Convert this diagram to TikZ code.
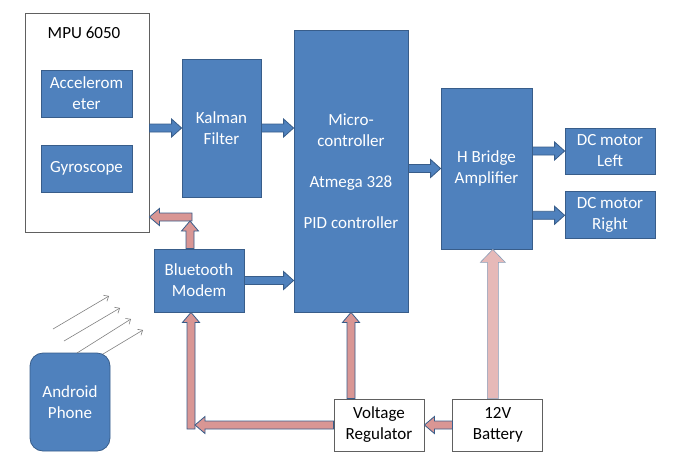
\documentclass[tikz,border=0pt]{standalone}
\usepackage{fontspec}
\setmainfont{Carlito}
\usetikzlibrary{calc, positioning, arrows.meta}

\definecolor{boxblue}{HTML}{4F81BD}
\definecolor{edgeblue}{HTML}{385D8A}
\definecolor{powerpink}{HTML}{D99694}
\definecolor{lightpink}{HTML}{E6B9B8}
\definecolor{rimgray}{HTML}{606060}

\tikzset{
  bar half/.initial=4pt, head half/.initial=9pt, head len/.initial=10pt,
  fat/.style={draw=edgeblue, line width=0.8pt, fill=#1, line join=miter,
    to path={let \p1=(\tikztostart), \p2=(\tikztotarget),
        \n1={atan2(\y2-\y1,\x2-\x1)}, \n2={veclen(\x2-\x1,\y2-\y1)} in
      [shift={(\p1)}, rotate=\n1]
      (0pt,{\pgfkeysvalueof{/tikz/bar half}})
      -- ({\n2-\pgfkeysvalueof{/tikz/head len}},{\pgfkeysvalueof{/tikz/bar half}})
      -- ({\n2-\pgfkeysvalueof{/tikz/head len}},{\pgfkeysvalueof{/tikz/head half}})
      -- ({\n2*1pt},0pt)
      -- ({\n2-\pgfkeysvalueof{/tikz/head len}},{-\pgfkeysvalueof{/tikz/head half}})
      -- ({\n2-\pgfkeysvalueof{/tikz/head len}},{-\pgfkeysvalueof{/tikz/bar half}})
      -- (0pt,{-\pgfkeysvalueof{/tikz/bar half}}) -- cycle}},
  power/.style={fat=powerpink, head half=8.5pt},
}

\begin{document}
\begin{tikzpicture}[x=1pt, y=-1pt, font=\fontsize{17}{21}\selectfont,
    blk/.style={draw=edgeblue, line width=0.8pt, fill=boxblue, text=white, align=center, inner sep=0pt},
    wbox/.style={draw=rimgray, line width=0.8pt, fill=white, align=center, inner sep=0pt},
    wh/.style 2 args={minimum width=#1, minimum height=#2},
    signal/.style={draw=gray, line width=0.6pt, -{Straight Barb[length=4pt,width=7pt]}}]
  \useasboundingbox (0,0) rectangle (675,459);

  % sensor board
  \node[wbox, wh={124pt}{219pt}] (mpu) at (87,122.5) {};
  \node (mpulbl) at (84,33) {MPU 6050};
  \node[blk, wh={91pt}{47pt}] (acc) at (86.5,93.5) {Accelerom\\eter};
  \node[blk, wh={91pt}{47pt}] (gyro) at (86.5,168.5) {Gyroscope};

  \node[blk, wh={79pt}{138pt}] (kal) at (221.5,128) {Kalman\\Filter};
  \node[blk, wh={114pt}{282pt}] (mcu) at (351,171) {Micro-\\controller\\[20pt]Atmega 328\\[20pt]PID controller};
  \node[blk, wh={91pt}{161pt}] (hb) at (486.5,168.5) {H Bridge\\Amplifier};
  \node[blk, wh={90pt}{46pt}] (dcl) at (610,151) {DC motor\\Left};
  \node[blk, wh={90pt}{47pt}] (dcr) [below=17pt of dcl] {DC motor\\Right};
  \node[blk, wh={90pt}{63pt}] (bt) at (199,280.5) {Bluetooth\\Modem};
  \node[blk, rounded corners=13pt, wh={80pt}{98pt}] (phone) at (70,402) {Android\\Phone};
  \node[wbox, wh={90pt}{52pt}] (vr) at (379,425) {Voltage\\Regulator};
  \node[wbox, wh={90pt}{52pt}] (bat) [right=28pt of vr] {12V\\Battery};

  \coordinate (btup) at (192,217);
  \coordinate (bttip) at (190,221);
  \coordinate (knee) at (191,429);

  % data flow
  \draw[fat=boxblue] (kal.west -| mpu.east) to (kal.west);
  \draw[fat=boxblue] (kal.east) to (kal.east -| mcu.west);
  \draw[fat=boxblue] (hb.west -| mcu.east) to (hb.west);
  \draw[fat=boxblue] (dcl.west -| hb.east) to (dcl.west);
  \draw[fat=boxblue] (dcr.west -| hb.east) to (dcr.west);
  \draw[fat=boxblue] (bt.east) to (bt.east -| mcu.west);

  % power
  \draw[power] (btup) to (btup -| mpu.east);
  \draw[power] (bt.north -| bttip) to (bttip);
  \draw[power] (knee) to (knee |- bt.south);
  \draw[power] (vr.west) to ([xshift=4pt]vr.west -| knee);
  \draw[power] (vr.north -| mcu.south) to (mcu.south);
  \draw[power] (bat.west) to (vr.east);
  \draw[fat=lightpink, draw=edgeblue!60, line width=0.6pt, bar half=5.5pt, head half=12.5pt, head len=13pt]
    ([xshift=-5pt]bat.north) to ([xshift=-5pt]bat.north |- hb.south);

  \foreach \sx/\sy/\ex/\ey in {53/329/109/296, 64/341/120/308, 77/353/131/319, 103/354/143/330}
    \draw[signal] (\sx,\sy) -- (\ex,\ey);
\end{tikzpicture}
\end{document}
